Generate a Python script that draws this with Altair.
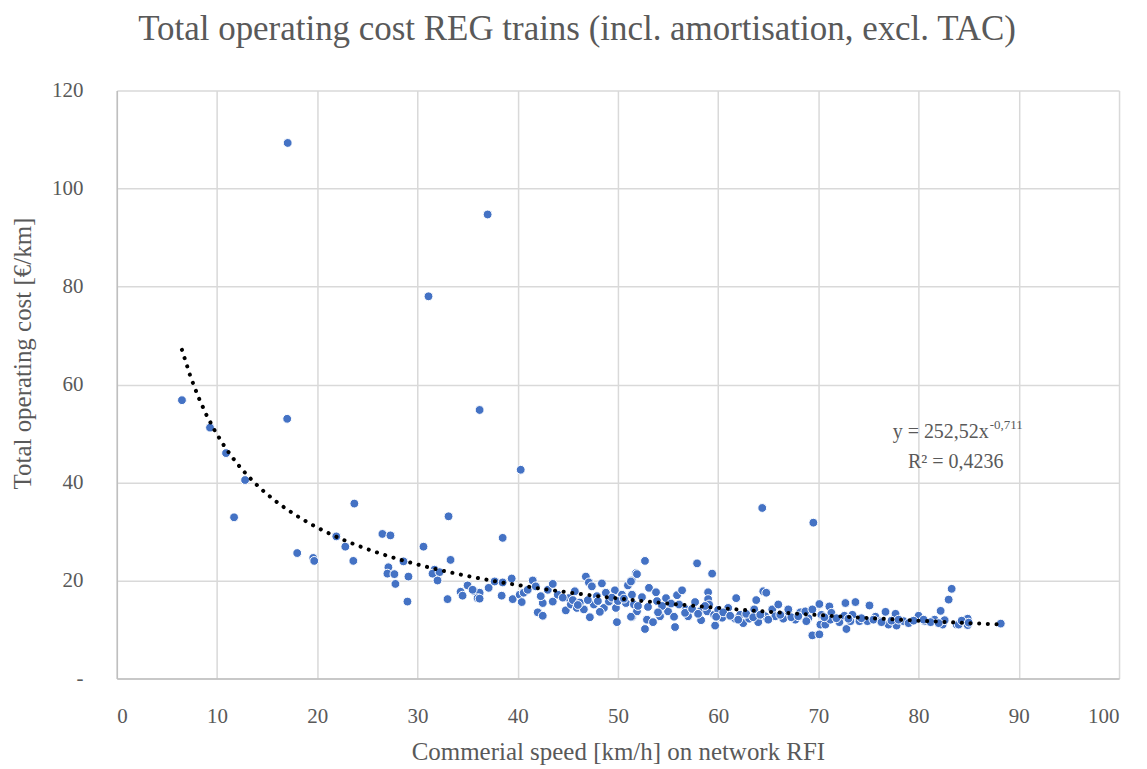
import altair as alt
import pandas as pd

# Commercial speed [km/h] and total operating cost [EUR/km]
speed = [
    6.5, 9.3, 10.9, 12.8, 11.7, 17.0, 17.05, 18.0, 19.6, 19.7, 21.9, 22.8, 23.6, 23.7, 26.5, 27.3,
    31.1, 37.0, 36.2, 40.3, 38.5, 64.4, 69.5, 30.6, 33.1,
    27.1, 27.0, 27.7, 27.8, 28.6, 29.1, 29.0, 31.7, 31.5, 32.2, 32.0, 33.3, 33.0, 34.3, 34.5, 35.0,
    35.7, 36.2, 36.0, 35.5, 36.2, 37.1, 37.7, 38.5, 38.4, 39.4, 39.5,
    40.2, 40.4, 40.6, 41.0, 41.5, 41.8, 42.0, 42.5, 42.5, 42.3, 43.0, 43.5, 43.5, 44.0, 44.8, 45.1,
    45.7, 45.3, 45.9, 46.6, 46.8, 47.1, 47.4, 47.2, 47.6, 47.9, 48.4, 48.6, 48.8, 49.1, 49.7, 49.8,
    49.9, 50.4, 50.8, 51.0, 51.4, 51.4, 51.6, 51.8, 51.4,
    44.5, 45.5, 46.2, 47.0, 48.0, 49.4, 50.0, 50.6, 48.2, 46.0,
    52.7, 51.9, 51.3, 53.1, 53.8, 52.4, 51.9, 51.3, 52.7, 52.9, 53.5, 53.9, 54.2, 54.8, 55.0, 55.6,
    55.7, 55.9, 56.4, 56.1, 56.8, 57.0, 57.7, 57.9, 58.2, 58.3, 59.0, 59.0, 59.1, 58.9, 59.4, 59.6,
    59.7, 60.4, 61.0, 61.8, 61.7, 62.2, 62.5, 63.1, 63.8, 63.6, 64.0, 64.5, 64.8, 64.7, 65.4, 66.0,
    65.7, 67.0, 66.5, 67.7,
    52.0, 53.0, 54.4, 55.3, 56.7, 57.4, 58.0, 58.7, 60.0, 59.8, 54.0,
    60.5, 61.2, 62.0, 62.8, 63.5, 64.2, 65.0, 66.2, 67.3, 68.2, 69.0,
    67.0, 68.0, 68.7, 68.8, 69.4, 69.4, 70.1, 70.1, 70.3, 70.2, 70.7, 71.1, 71.3, 71.2, 72.1, 72.7,
    72.6, 72.8, 73.7, 73.4, 73.2, 74.1, 75.1, 74.9, 75.7, 76.2, 76.7, 77.0, 77.7, 77.8, 78.5, 79.0,
    80.0, 80.6, 81.6, 82.2, 83.0, 83.3, 82.4, 83.8, 82.6, 84.0, 84.9, 84.9, 88.2,
    70.6, 71.8, 73.0, 74.3, 75.5, 76.3, 77.3, 78.0, 79.5, 80.5, 81.2, 82.0, 84.3, 85.0,
]
cost = [
    56.8, 51.2, 46.0, 40.5, 32.9, 53.0, 109.3, 25.6, 24.6, 24.0, 29.0, 26.9, 24.0, 35.7, 29.5, 29.2,
    78.0, 94.7, 54.8, 42.6, 28.7, 34.8, 31.8, 26.9, 33.1,
    22.7, 21.4, 21.3, 19.3, 23.9, 20.8, 15.7, 22.2, 21.4, 21.7, 20.0, 24.2, 16.2, 17.7, 16.9, 19.0,
    17.8, 17.5, 16.4, 18.1, 16.3, 18.5, 19.8, 19.6, 16.9, 20.4, 16.2,
    17.1, 15.6, 17.5, 18.1, 20.0, 18.8, 13.5, 12.8, 15.4, 16.8, 18.1, 19.3, 15.7, 17.1, 13.9, 16.4,
    17.8, 15.1, 14.4, 14.1, 20.8, 19.6, 18.8, 12.5, 15.1, 16.8, 19.4, 14.4, 17.5, 15.7, 18.0, 14.4,
    11.5, 17.1, 15.4, 19.0, 20.0, 17.1, 15.1, 21.5, 12.5,
    16.5, 16.0, 15.5, 16.0, 15.8, 16.5, 15.8, 16.3, 13.6, 15.0,
    24.0, 21.3, 19.8, 18.5, 17.6, 16.6, 13.7, 12.6, 10.1, 12.0, 11.5, 15.8, 12.7, 16.4, 13.7, 12.6,
    10.5, 17.0, 18.0, 15.1, 14.1, 12.7, 15.6, 23.5, 13.7, 11.9, 17.6, 16.2, 15.1, 13.7, 21.4, 13.0,
    10.8, 12.4, 14.4, 16.4, 12.2, 13.0, 11.3, 12.2, 16.0, 14.1, 11.5, 17.8, 17.5, 12.7, 14.1, 15.1,
    12.7, 13.7, 12.2, 12.0,
    14.8, 14.6, 14.8, 15.3, 13.4, 14.2, 13.2, 14.8, 14.0, 12.6, 13.5,
    13.5, 12.8, 12.0, 13.2, 12.5, 13.0, 12.0, 13.0, 12.5, 13.5, 12.3,
    14.1, 12.7, 13.7, 11.7, 14.1, 8.8, 9.0, 15.2, 13.0, 11.0, 11.0, 14.7, 13.4, 12.0, 11.5, 15.4,
    12.8, 10.1, 15.6, 13.0, 11.7, 11.7, 14.9, 11.7, 12.6, 11.7, 13.6, 11.0, 13.2, 10.8, 11.7, 11.3,
    12.8, 11.7, 12.0, 13.8, 16.1, 18.3, 11.0, 11.0, 11.9, 11.0, 12.2, 10.9, 11.2,
    12.5, 12.3, 12.2, 12.3, 12.0, 11.5, 11.8, 12.0, 11.8, 12.0, 11.5, 11.3, 11.8, 11.4,
]

# Trendline equation labels
eq_main = ["y = 252,52x"]
eq_exp = ["-0,711"]
eq_r2 = ["R² = 0,4236"]
eq_x = [87.0]
eq_y = [50.3]
eq_exp_y = [51.7]
r2_x = [83.7]
r2_y = [44.2]

FONT = "Liberation Serif"
GREY = "#595959"

df = pd.DataFrame({"x": speed, "y": cost})

x_enc = alt.X("x:Q", scale=alt.Scale(domain=[0, 100], nice=False),
              axis=alt.Axis(values=list(range(0, 101, 10)),
                            title="Commerial speed [km/h] on network RFI",
                            labelPadding=27, titlePadding=13))
y_enc = alt.Y("y:Q", scale=alt.Scale(domain=[0, 120], nice=False),
              axis=alt.Axis(values=list(range(0, 121, 20)),
                            title="Total operating cost [€/km]",
                            labelExpr="datum.value == 0 ? '-' : datum.label",
                            labelPadding=34, titlePadding=16, titleY=263))

points = alt.Chart(df).mark_point(
    filled=True, shape="circle", size=78, color="#4472C4",
    stroke="white", strokeWidth=1, opacity=1
).encode(x=x_enc, y=y_enc)

trend = alt.Chart(df).transform_regression(
    "x", "y", method="pow"
).mark_line(
    color="black", strokeWidth=4, strokeDash=[0.1, 8.6], strokeCap="round"
).encode(x="x:Q", y="y:Q")

ann1 = alt.Chart(pd.DataFrame({"t": eq_main, "x": eq_x, "y": eq_y})).mark_text(
    font=FONT, fontSize=20, color=GREY, align="right", baseline="middle"
).encode(x="x:Q", y="y:Q", text="t:N")
ann2 = alt.Chart(pd.DataFrame({"t": eq_exp, "x": eq_x, "y": eq_exp_y})).mark_text(
    font=FONT, fontSize=13, color=GREY, align="left", baseline="middle", dx=1
).encode(x="x:Q", y="y:Q", text="t:N")
ann3 = alt.Chart(pd.DataFrame({"t": eq_r2, "x": r2_x, "y": r2_y})).mark_text(
    font=FONT, fontSize=20, color=GREY, align="center", baseline="middle"
).encode(x="x:Q", y="y:Q", text="t:N")

chart = alt.layer(points, trend, ann1, ann2, ann3).properties(
    width=1004, height=589,
    autosize=alt.AutoSizeParams(type="none"),
    padding={"left": 109, "top": 82, "right": 20, "bottom": 88},
    title=alt.TitleParams(
        text="Total operating cost REG trains (incl. amortisation, excl. TAC)",
        font=FONT, fontSize=35, fontWeight="normal", color=GREY,
        anchor="middle", offset=33, dx=-41
    ),
).configure_view(stroke=None).configure_axis(
    labelFont=FONT, labelFontSize=21, labelColor=GREY,
    titleFont=FONT, titleFontSize=25, titleFontWeight="normal", titleColor=GREY,
    gridColor="#d9d9d9", gridWidth=1.5, domainColor="#bfbfbf", domainWidth=1.5,
    ticks=False
)

chart.save("out.html", embed_options={"renderer": "svg", "actions": False})
